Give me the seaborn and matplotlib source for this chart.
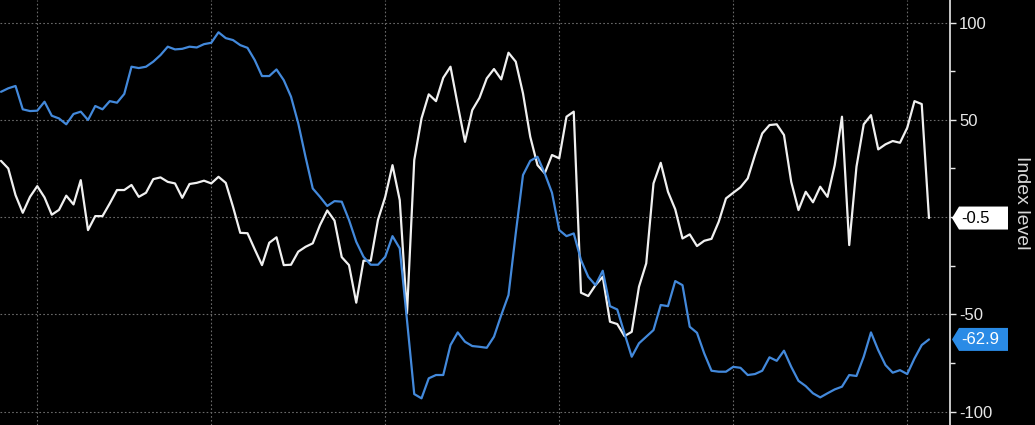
import numpy as np
import pandas as pd
import matplotlib
matplotlib.use("Agg")
import matplotlib.pyplot as plt
import seaborn as sns
from matplotlib.patches import Polygon
from matplotlib.transforms import IdentityTransform

# ---- data (monthly index) ----
white_series = [
    28.9, 25.0, 11.3, 2.2, 10.4, 15.9, 10.1, 1.2, 3.7, 11.0,
    6.5, 19.0, -6.7, 0.5, 0.5, 7.0, 13.9, 13.9, 16.5, 10.4,
    12.5, 19.5, 20.4, 18.1, 17.3, 9.9, 17.0, 17.6, 18.7, 17.3,
    20.7, 17.6, 5.3, -8.1, -8.3, -16.6, -24.7, -13.2, -10.4, -24.7,
    -24.5, -17.8, -15.3, -13.5, -4.1, 3.4, -1.8, -20.6, -24.7, -44.0,
    -22.4, -22.4, -1.4, 10.4, 26.7, 8.7, -49.5, 29.3, 50.7, 63.1,
    59.6, 71.6, 77.3, 57.6, 38.7, 55.0, 61.3, 71.3, 76.1, 70.8,
    84.5, 79.9, 63.6, 41.3, 26.7, 22.5, 31.9, 30.2, 51.6, 54.2,
    -38.9, -40.6, -35.0, -30.7, -53.8, -55.0, -61.2, -59.0, -35.8, -23.8,
    17.3, 27.9, 13.0, 4.0, -11.0, -8.9, -14.9, -12.2, -11.2, -2.4,
    9.6, 12.5, 15.3, 19.9, 31.9, 43.0, 47.3, 47.7, 42.2, 18.1,
    3.6, 13.0, 7.6, 15.6, 10.4, 26.7, 51.6, -14.4, 25.9, 47.7,
    52.4, 34.8, 37.4, 39.1, 38.2, 45.9, 59.6, 58.1, -0.5,
]
blue_series = [
    64.4, 66.2, 67.4, 55.4, 54.5, 54.7, 59.3, 52.1, 50.7, 47.7,
    53.0, 54.2, 49.9, 57.1, 55.4, 59.6, 58.8, 63.3, 77.3, 76.6,
    77.3, 79.9, 83.3, 87.6, 86.2, 86.5, 87.6, 87.2, 88.9, 89.6,
    95.0, 92.0, 91.0, 88.4, 87.0, 80.7, 72.5, 72.5, 75.9, 70.4,
    61.9, 48.2, 31.0, 14.7, 10.4, 5.7, 8.2, 7.9, -1.5, -12.7,
    -20.4, -24.5, -24.5, -20.4, -9.8, -16.1, -53.0, -91.0, -93.2, -82.9,
    -81.2, -81.2, -65.8, -59.3, -64.1, -66.3, -66.7, -67.2, -61.5, -50.4,
    -40.1, -8.4, 21.6, 28.9, 31.0, 22.5, 12.5, -6.7, -9.8, -8.4,
    -22.1, -30.7, -35.0, -27.6, -45.8, -47.5, -59.8, -71.8, -64.9, -61.5,
    -58.1, -45.2, -45.8, -32.9, -35.0, -56.4, -59.5, -70.1, -79.0, -79.5,
    -79.5, -77.0, -77.5, -81.2, -80.7, -79.0, -72.1, -73.9, -68.7, -77.0,
    -84.2, -86.9, -90.6, -92.7, -90.6, -88.6, -87.2, -81.2, -81.7, -71.8,
    -59.3, -68.4, -76.1, -80.0, -78.7, -80.7, -72.7, -65.8, -62.9,
]
y_ticks = [-100, -50, 0, 50, 100]
y_tick_labels = ["-100", "-50", "", "50", "100"]
minor_ticks = [-75, -25, 25, 75]
x_grid_positions = [5, 29, 53, 77, 101, 125]
y_label = "Index level"

period = np.arange(len(white_series))
df = pd.DataFrame({
    "period": np.concatenate([period, period]),
    "value": white_series + blue_series,
    "series": ["white"] * len(white_series) + ["blue"] * len(blue_series),
})

# ---- style ----
sns.set_theme(style="dark")
plt.rcParams["font.family"] = ["Liberation Sans", "DejaVu Sans"]
plt.rcParams["axes.unicode_minus"] = False

W, H = 1035, 425
fig = plt.figure(figsize=(W / 100, H / 100), dpi=100, facecolor="black")
ax = fig.add_axes([0, 0, 950 / W, 1])
ax.set_facecolor("black")

WHITE = "#f0f0f0"
BLUE = "#4389db"

sns.lineplot(data=df, x="period", y="value", hue="series",
             palette={"white": WHITE, "blue": BLUE},
             hue_order=["white", "blue"], linewidth=1.6,
             legend=False, ax=ax, estimator=None)

ax.set_xlim(-0.14, 130.9)
ax.set_ylim(-106.9, 111.6)

# grid
ax.set_xticks(x_grid_positions)
ax.set_xticklabels([])
ax.tick_params(axis="x", length=0)
ax.set_yticks(y_ticks)
ax.set_yticklabels(y_tick_labels)
ax.set_yticks(minor_ticks, minor=True)
ax.grid(True, which="major", color="#6a6a6a", linestyle=(0, (1.5, 2)), linewidth=0.8)
ax.grid(False, which="minor")

ax.yaxis.tick_right()
ax.tick_params(axis="y", which="major", colors="#e8e8e8", labelcolor="#e8e8e8",
               length=4, width=1, pad=2.5, labelsize=12, direction="out")
ax.tick_params(axis="y", which="minor", colors="#e8e8e8", length=3.5, width=1, direction="out")
ax.set_xlabel("")
ax.set_ylabel("")

for s in ["left", "top", "bottom"]:
    ax.spines[s].set_visible(False)
ax.spines["right"].set_visible(True)
ax.spines["right"].set_color("#e8e8e8")
ax.spines["right"].set_linewidth(1.2)

fig.text(1021.5 / W, 1 - 203 / H, y_label, rotation=270, ha="center", va="center",
         fontsize=14, color="#d8d8d8")

# ---- last-value tags ----
def add_tag(value, face, tcolor):
    yd = ax.transData.transform((0, value))[1]
    half = 11.5
    verts = [(952, yd), (959, yd + half), (1008, yd + half), (1008, yd - half), (959, yd - half)]
    poly = Polygon(verts, closed=True, transform=IdentityTransform(),
                   facecolor=face, edgecolor="none", zorder=10)
    fig.add_artist(poly)
    fig.text(961 / W, yd / H, f"{value:.1f}", ha="left", va="center",
             fontsize=12, color=tcolor, zorder=11)

add_tag(white_series[-1], "#ffffff", "#000000")
add_tag(blue_series[-1], "#2a8be6", "#ffffff")

fig.savefig("out.png", dpi=100, facecolor="black")
